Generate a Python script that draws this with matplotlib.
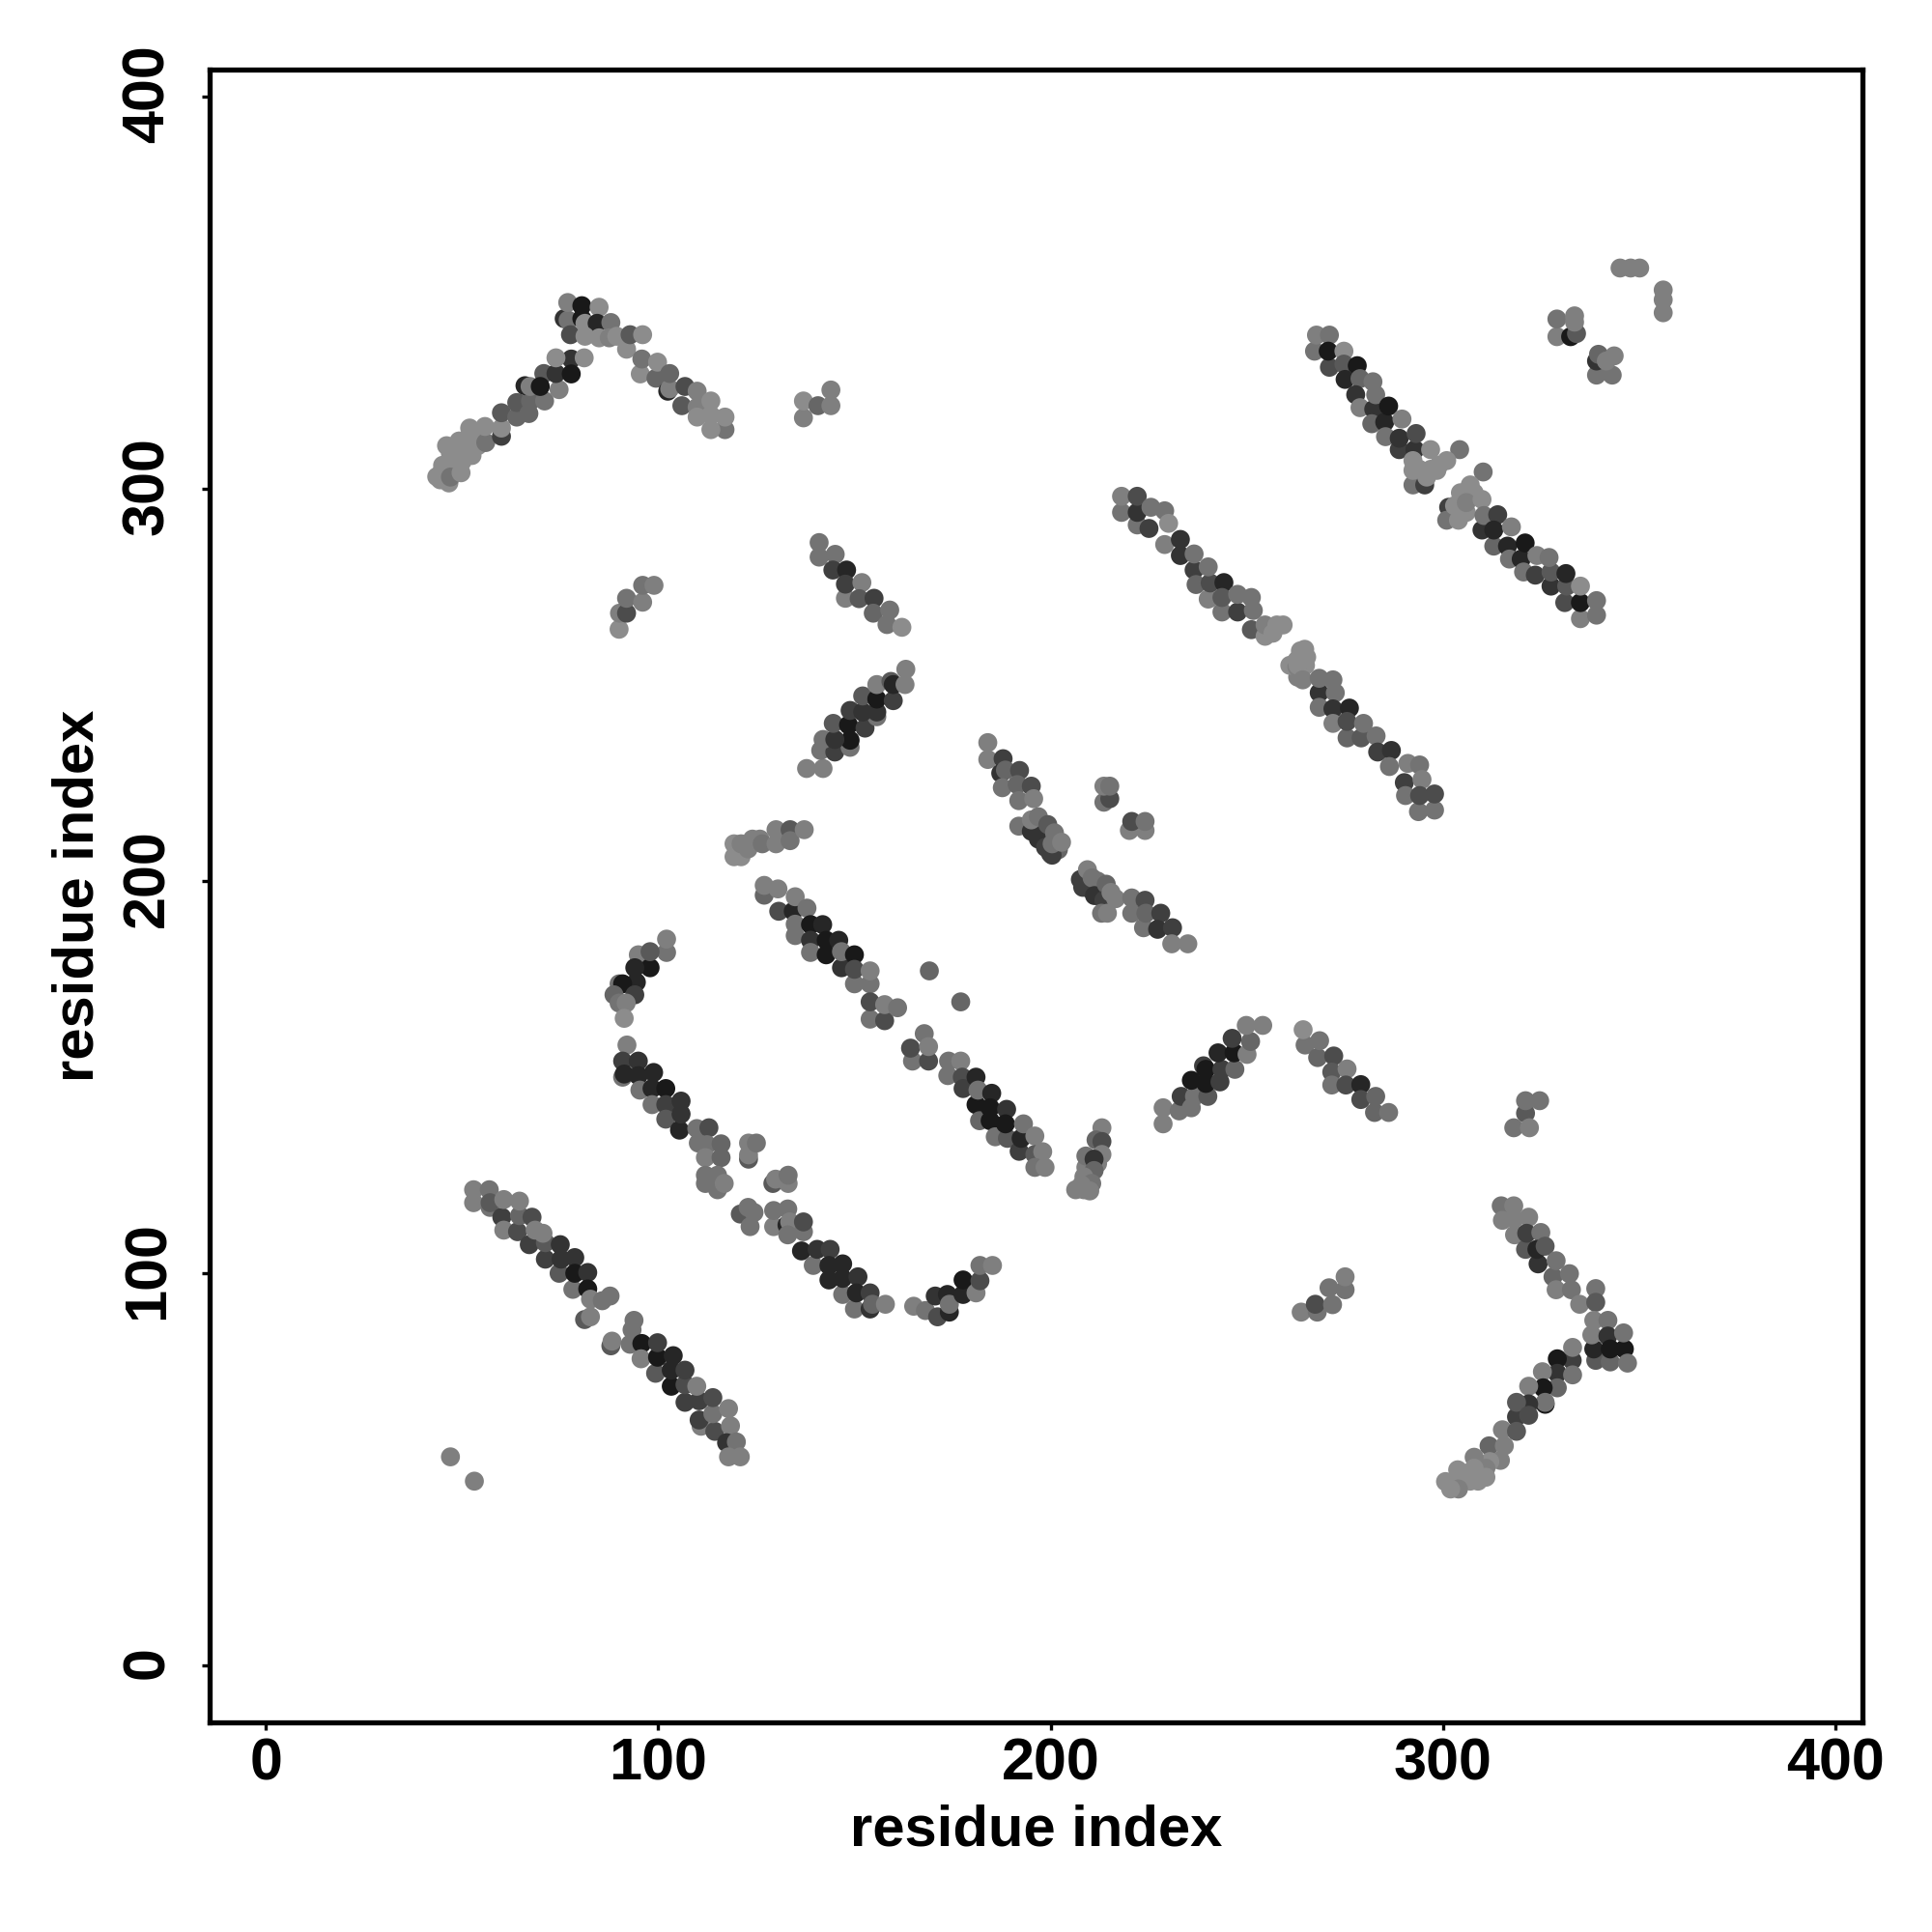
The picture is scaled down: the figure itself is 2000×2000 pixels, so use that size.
import numpy as np
import matplotlib
matplotlib.use('Agg')
import matplotlib.pyplot as plt
from matplotlib.transforms import ScaledTranslation

plt.rcParams['font.family'] = ['Liberation Sans', 'DejaVu Sans']

# every band is (residue i, residue j, contact score 1-10)
band_fill = [(45,306,1),(47,306,1),(48,307,1),(50,307,1),(48,304,1),(46,311,1),(53,313,1),(54,311,1),
             (294,305,1),(295,302,1),(294,303,1),(297,305,1),(299,306,1),(304,293,1),(302,293,1),(306,294,1),(308,299,1),
             (197,213,4),(198,211,6),(199,211,3),(200,207,7),(202,208,4),(201,210,5),
             (209,199,6),(210,198,7),(212,198,4),(213,197,3),(212,200,3),
             (209,124,3),(210,126,3),(212,128,2),(209,127,2),(263,252,2),(264,254,1),(265,255,1),(261,255,1)]
band_a = [(44.4,302.3,1),(46.6,301.5,1),(43.5,303.1,1),(44.8,304.4,1),(47,303,3),(49.7,304.1,1),(47,309,1),
          (49.7,311.4,1),(52.5,308.5,1),(51.9,315.5,1),(49.2,312.2,1),(51.9,311.4,1),(56,311.8,3),(55.8,315.9,1),
          (60,313.4,7),(60,315.5,1),(60,319.4,5),(63.9,318.3,4),(63.9,322,5),(67,319.2,4),(67.4,322.4,4),
          (71,322.4,3),(70.8,329.4,5),(66,326.3,9),(67.3,326.1,2),(69.9,326.1,10),(74.7,325.3,2),(73.9,329.4,8),
          (77.8,333.1,8),(77.8,329.3,10),(73.9,333.4,1),(81.1,333.4,1)]
band_b = [(76,343.4,8),(77,343,3),(76.9,347.5,2),(80.5,343.4,10),(80.5,346.7,10),(84.9,346.3,1),(77.6,339.3,6),
          (81.3,342.2,1),(84.4,342.2,9),(87.9,342.4,3),(81.3,338.9,1),(84.9,338.5,1),(87.5,338.5,2),(91.9,335.6,1),
          (89.4,338.9,1),(92.8,339.3,5),(96,339.3,1)]
band_c = [(95.4,329.3,1),(95.8,333.1,3),(99.4,328.2,4),(99.8,332.3,1),(102.4,324.9,9),(102.9,325.5,2),(102.9,329.4,4),
          (106,321.2,5),(106.8,326.1,6),(109.9,320.8,2),(109.9,324.9,2),(109.9,318.3,1),(113.4,322.4,1),
          (117,315.1,3),(113.4,315.1,1),(117,318.3,1),(113.4,318.8,1)]
band_d = [(137,318.1,2),(137,322.4,1),(140.7,321.2,4),(144,325.2,2),(144,321.2,2)]
band_e = [(90,264.2,1),(90.1,268.3,2),(91.9,268.3,6),(91.9,272.1,3),(96,271.1,2),(96,275.4,3),(98.9,275.4,2)]
band_f = [(141,282.6,3),(141,286.3,3),(145.1,283.3,3),(144.5,279.3,7),(148,279.3,9),(147.7,272.1,2),(147.7,275.7,7),
          (151.9,276.1,2),(151.2,272,5),(155,272.1,7),(154.8,268.3,4),(158.3,265.4,3),(159,269.1,3),(162.1,264.7,1)]
band_g = [(137.8,228.7,2),(142,228.7,2),(141.4,233.3,3),(145,232.9,7),(142,236.1,3),(148.9,234.1,3),(148.9,235.9,10),
          (145,236.1,8),(144.6,240.2,5),(148.5,239.8,10),(152.7,239,7),(148.9,243.5,7),(155.7,241.9,3),(155.7,243.1,8),
          (152.1,243.1,8),(152.1,247.2,5),(155.7,246.4,10),(159.9,246,7),(155.7,250.1,2),(159.3,250.9,5),
          (159.9,250.1,9),(162.9,250.1,2),(163.1,254,2)]
band_h = [(119.3,206.2,1),(121.1,206.2,1),(119.3,209.5,1),(121.1,209.5,2),(122.9,208.2,2),(124,210.7,2),(125.9,210.7,2),
          (126.5,209.5,3),(130,209.5,2),(130,213.1,2),(133.6,213.1,5),(133.6,210.3,3),(137.2,213.1,2)]
band_i = [(127,196.4,4),(127,198.9,2),(130.7,192.3,6),(130.5,198,2),(134.4,192.3,9),(134.9,196,2),(134.9,189,3),
          (137.9,193.1,3),(138.8,188.9,10),(134.9,186.1,3),(141.9,188.9,9),(138.8,184.9,8),(138.8,181.8,3),
          (142.8,181.2,10),(142.8,184.9,10),(146,184.9,9),(146.7,177.9,8),(146.7,182,3),(150,173.8,3),(150,181.2,10),
          (150,177.5,6),(154,173.8,3),(154,177.1,2)]
band_i2 = [(154,164.8,3),(154,169.2,6),(157.7,164.4,6),(157.7,168.5,2),(161,167.7,3),
           (164.8,154.1,3),(164.3,157.4,6),(167.8,161.1,3),(168.9,154.1,6),(168.9,157.8,2)]
band_i3 = [(173.8,150.4,3),(174,154.1,3),(177.1,154.1,2),(177.5,150,6),(177.7,147.1,7),(181,150,9),(181,143,10),
           (181.5,146.7,3),(181.9,138.9,4),(185,145.9,9),(184.6,142.2,10),(184.6,138.9,10),(185.9,134.8,3),
           (189,134.4,5),(188.8,141.8,8),(188.5,138.1,10),(192,131.1,7),(192.5,134.4,9),(193.1,138.1,3),
           (196,135,2),(196,130.3,5),(198,131,2),(196,127,3),(198.6,127,2)]
singles = [(169.1,177.1,4),(177.1,169.2,4),(47,53.2,2),(53.1,47,2)]
band_j = [(184,231,2),(184,235.3,2),(187.9,231.2,7),(187.3,227.5,8),(188.5,228.3,4),(192.1,228.2,6),(187.7,223.8,3),
          (191.5,224.6,4),(195.1,224.2,6),(191.9,220.5,3),(195.7,221,2),(191.9,214,3),(195.1,212.7,8),(195.1,215.6,2),
          (196.9,210.7,8),(196.9,216.4,3),(198.7,208.6,7),(199.3,214.4,5),(200.4,206.6,7),(200.4,209.5,3),
          (201,212.3,3),(202.8,209.9,2)]
band_j2 = [(207.6,200.4,7),(208.2,198.4,7),(209.4,202.9,2),(210.6,200.8,3),(211.2,196.3,8),(214.2,199.2,4),
           (213.6,195.1,7),(215.4,197.1,2),(213,191.8,3),(214.5,191.8,2),(216.6,195.5,2),(220.7,191.8,3),
           (220.7,195.7,3),(224.1,195.1,6),(223.7,188.1,3),(224.3,191.8,4),(228.1,191.8,7),(227.3,187.7,8),
           (231.1,188.1,7),(230.9,184,2),(235,184,2)]
band_j3 = [(213.6,220.1,3),(215.1,221,6),(213.6,224.2,2),(215.1,224.2,3),
           (220.1,212.9,2),(224.1,212.9,2),(220.7,215.2,6),(224.1,215.2,3)]
band_k = [(267.3,335.1,3),(267.8,339.2,2),(271.1,339.2,3),(271.1,331,6),(270.8,335.1,10),(274.8,335.1,1),
          (274.8,331.8,5),(278.2,331.4,10),(275.1,327.9,9),(278.9,328.1,4),(277.8,324,8),(282.2,327.3,3),
          (278.9,320.7,2),(282.4,320.3,8),(282.9,324,3),(281.9,316.6,4),(285.2,317,9),(286.2,321.1,10),(285.4,313.3,3),
          (288.9,310,7),(288.9,312.9,8),(289.6,317.8,2),(292.9,310,8),(293.2,314.1,6),(292.4,301,3),(295.4,301,7),
          (292.4,304.7,1),(292.4,307.2,1),(295.9,303,1),(298.5,304.7,1),(296.9,310,1),(304.3,310,3),(301,307.2,1)]
band_l = [(310.3,304.3,3),(307,301,1),(304.5,299,1),(301.5,295.3,7),(301,292,3),(304,292,1),(303,295.7,1),(306,296.5,2),
          (310,289.5,8),(310,297.3,1),(310.5,293.2,3),(314,293.4,7),(313,285.4,4),(313,289.5,9),(317.5,290.3,2),
          (316.5,285.4,9),(317,282.1,3),(320,282.1,9),(321,286.2,10),(320.6,278.8,3),(323.6,278,7),(324,283,2),
          (327.6,275.2,8),(327.6,278.8,5),(327.1,282.5,3),(331.1,271,6),(331.6,275.2,5),(331.4,278.4,9),
          (335.1,266.9,2),(335.1,271,10),(335.1,275.2,1),(339.2,267.8,3),(339.2,271.5,3)]
band_m = [(345.2,356.3,2),(347.9,356.3,2),(350.2,356.3,2),(356.2,344.9,2),(356.2,348.2,2),(356.2,350.7,2),
          (329.1,338.8,2),(329.1,343.3,3),(332.6,338.8,10),(334.1,339.6,5),(333.6,342.5,2),(333.6,344.1,2),
          (339.2,329,3),(343.2,329,3),(339.2,332.6,8),(339.7,334.3,4),(341.7,332.6,2),(343.7,333.9,2)]
band_n = [(218.1,294,3),(218.1,298.1,2),(222.1,290.8,3),(222.1,294,8),(222.1,298.1,6),(225.1,289.9,7),(225.6,295.3,3),
          (229.1,285.8,2),(229.1,294.4,3),(230.1,291.2,1),(233.1,283,8),(233.1,287.1,8),(236.6,279.3,7),(236.6,283.4,3),
          (237.1,275.6,4),(240.2,271.9,2),(240.7,276,6),(240.2,280.1,3),(244.2,276.1,9),(243.7,268.6,3),(243.7,272.3,5),
          (247.7,268.6,7),(247.7,273.1,3),(251.2,264.1,5),(251.7,269,3),(251.2,272.3,3),(254.7,262.4,1),(254.7,265.3,2),
          (256.7,263.2,1),(257.7,265.3,1),(259.3,265.3,1)]
band_o = [(262.8,254.6,2),(262.8,256.3,1),(263.1,255,1),(264.8,259.1,1),(265.3,257.1,1),(263.7,258.7,1),(264.3,251.3,2),
          (268.5,248,8),(268.5,251.7,3),(272,251.3,3),(272.6,248,3),(268.5,244.3,3),(272,243.9,8),(276.2,244.1,9),
          (272,240.2,2),(275.6,236.5,4),(275.6,240.7,6),(279.2,236.5,5),(279.8,240.2,3),(283,237,3),(283.4,232.9,7),
          (286.9,233.3,8),(286.4,229.2,3),(291.1,230,2),(290.2,225.1,7),(290.5,221.8,3),(294.1,229.6,3),(294.7,225.9,2),
          (293.8,217.7,3),(294.1,221.8,6),(297.9,218.1,3),(297.9,222.2,6)]
band_p = [(102.1,181.8,3),(102.1,185.2,2),(94.9,181.2,2),(97.9,177.9,10),(97.9,182,5),(94,177.9,9),(94.4,174.2,9),
          (90,173.8,3),(90.9,173.8,10),(94,171,7),(88.7,171,4),(90,168.9,3),(91.8,168.9,2),(91.3,165,1)]
band_q = [(92,158.2,2),(90.9,150,3),(90.9,154.1,7),(94.9,154.1,8),(91.3,150.8,9),(94.9,150.4,9),(95.3,146.7,3),
          (98.8,151.2,9),(98.4,147.1,9),(98.4,143,3),(101.9,147.1,10),(101.9,143,7),(101.9,139.3,5),(105.4,136.5,9),
          (105.8,140.6,8),(105.8,143.9,8),(109.8,136.9,3),(110.2,133.2,3),(112.9,137.1,6),(112.4,132.8,3),(116,133,4),
          (112,129.5,2),(116,129.5,4),(112,125,3),(112,122.9,3),(115.1,121.3,3),(115.1,125,3),(116.8,122.9,2),
          (123,129.1,5),(123,130.2,2),(123,133.2,2),(125,133.2,3),
          (129.2,122.9,5),(129.9,124,2),(133.1,122.9,2),(133.1,125,3)]
band_r = [(120.9,115.1,5),(122.9,116.8,3),(123.4,111.9,3),(124.4,115.5,3),(129.4,111.9,2),(129.4,116,3),(133,116.4,3),
          (132.8,112.3,9),(133.5,113.1,2),(133,109.8,3),(137,110.6,3),(137,113.1,6),(136.5,105.7,9),(139.5,102,3),
          (140.5,106.1,8),(143.8,106.1,7),(143.5,102,9),(143.5,98.3,9),(147,102.4,9),(147,94.6,3),(147,98.7,9),
          (150.9,99.1,8),(150,90.9,3),(150.5,95,9),(154,90.9,8),(154,95,7),(154.6,92.1,4),(157.9,92.1,2)]
band_s = [(165.1,91.6,2),(168.1,90.5,3),(171.2,88.9,6),(170.6,94.2,8),(174.2,90.1,9),(173.7,94.6,9),(174.2,92.1,3),
          (177.7,94.6,9),(177.7,98.3,10),(181,95,2),(182,98.1,6),(182,102,3),(185.2,102,2)]
band_t = [(52.9,118,2),(52.9,121.3,2),(56.9,121.3,3),(57.1,116.8,3),(57.1,118,5),(60.1,114.3,7),(60.6,111,2),(60.6,118.8,2),
          (64.1,110.6,6),(64.6,114.7,4),(64.6,118.4,2),(67.8,114.3,6),(67.1,107.3,7),(68.6,111,2),(71.2,103.6,7),
          (71.2,107.8,5),(70.6,110.2,2),(75,107.3,8),(74.7,100,5),(75.2,103.6,8),(78.7,104,8),(78.2,95.9,3),(78.7,100,10),
          (82,100.2,8),(81.2,88.2,5),(82.7,88.9,2),(82,96,10),(82.7,93.4,2),(85.7,93,3),(87.7,94.2,3)]
band_u = [(87.9,81.5,5),(88.2,82.7,2),(93.8,88,3),(93.3,85.6,3),(92.8,81.9,3),(95.8,82.1,10),(95.6,78.2,2),(99.3,74.5,5),
          (99.8,78.6,10),(99.8,82.3,7),(103.3,71.2,10),(103.3,75.3,9),(103.8,79,9),(106.8,67.1,7),(106.8,71.6,6),
          (106.8,75.3,7),(110.9,61,2),(110.4,62.6,7),(110.4,67.5,7),(109.8,71.2,2),(114.4,59.7,6),(113.9,64.2,3),
          (113.9,68.3,6),(117.9,65.5,2),(118.4,61.1,2),(117.4,56.8,8),(119.9,57,3),(117.9,53.2,2),(120.9,53.2,2)]
band_v = [(228.7,138.1,2),(228.7,142.2,2),(232.8,141.4,3),(233.3,145.1,7),(235.9,142.2,3),(236.7,145.1,3),(240.1,145.1,5),
          (235.9,149.2,10),(239.6,148.4,10),(243.2,148.8,7),(239,152.9,7),(239.6,152,10),(243.7,152,7),(247,152,4),
          (242.7,156.2,9),(246.8,156.2,10),(246.3,159.9,7),(250.1,155.8,2),(251,159.1,4),(249.9,163.2,2),(254.1,163.2,2)]
band_w = [(264.9,158.2,3),(264.4,162.1,1),(268.1,155,4),(268.6,159.3,3),(272.2,155.4,6),(271.7,151.3,5),(275.6,152.1,2),
          (271.7,148,3),(275.3,148,6),(279.1,148.1,9),(279.1,144.3,6),(282.9,145.1,4),(282.6,141,4),(286.2,141,3)]
band_x = [(321.1,140.8,5),(321.1,144,3),(324.7,144,3),(318.1,137.1,3),(322.1,137.1,2),
          (263.9,90.1,2),(268,90.1,3),(267.5,92.1,6),(271.9,92,3),(271,96.3,3),(275.1,95.8,3),(275.1,99.1,2)]
band_y = [(213.1,137.1,2),(211.6,134,4),(213.1,133.6,6),(213.1,130.3,2),(209,129.9,3),(211.1,129.1,8),(211.1,126.2,4),
          (208.5,124.6,2),(210.5,122.9,3),(206.4,121.3,2),(208.5,121.3,2),(210,121,2),(207.9,122.5,2)]
band_z = [(314.9,117.2,3),(315.2,113.5,2),(318.1,117.2,2),(318.3,113.9,2),(318.3,109.8,2),(321.9,114.3,2),(321.1,106.1,5),
          (321.4,110.2,7),(325,110.4,3),(324.3,102.4,8),(324,106.1,9),(326.1,106.9,5),(328.1,99.1,4),(328.9,95.8,2),
          (328.9,103.2,3),(332.3,99.9,3),(332.8,95.8,3),(334.9,92.1,2),(339,96.1,3),(339,92.6,5),(339,77.8,5),
          (338.5,80.7,9),(338,84.3,2),(338.5,88,2),(342.1,88,3),(342.1,84,8),(342.7,77.4,4),(342.7,80.7,10),
          (346.3,80.7,10),(346.1,84.8,3),(347.1,77.1,3)]
band_aa = [(333,77.8,7),(333.1,81.1,2),(329.2,78.2,10),(329.2,74.5,8),(333.1,74.1,3),(329.2,70.8,4),(325.4,74.9,2),
           (326.1,66.6,10),(325.6,70.8,10),(326.1,67.1,3),(321.9,71.2,2),(321.9,66.7,8),(318.8,63.4,7),(318.8,67.1,5),
           (321.9,63.8,6),(315.2,60.1,2),(318.8,59.7,5),(311.8,56,4),(315.7,56,2),(314.7,52.3,2),(312,52,1),(310,51,1),
           (308,53.1,2),(311,50.3,2),(308,50.3,1),(303.8,49.9,1),(306,49,1),(311,48,1),(309,47,1),(307,47,1),(305,47,1),
           (300.7,46.9,1),(304,45,2),(302,45,1)]

bands = [band_fill, band_a, band_b, band_c, band_d, band_e, band_f, band_g, band_h, band_i, band_i2, band_i3, singles,
         band_j, band_j2, band_j3, band_k, band_l, band_m, band_n, band_o, band_p, band_q, band_r, band_s,
         band_t, band_u, band_v, band_w, band_x, band_y, band_z, band_aa]

tick_values = [0, 100, 200, 300, 400]

fig = plt.figure(figsize=(10, 10), dpi=200)
ax = fig.add_axes([217 / 2000, 1 - 1783 / 2000, 1711 / 2000, 1711 / 2000])

for band in bands:
    pts = np.array(band)
    # score 1 is mid grey, score 10 is almost black
    ax.scatter(pts[:, 0], pts[:, 1], c=pts[:, 2], cmap='gray_r', vmin=-8, vmax=12,
               s=50, linewidths=0, clip_on=True)

ax.set_xlim(-14.4, 407)
ax.set_ylim(-14.5, 406.9)
ax.set_xticks(tick_values)
ax.set_yticks(tick_values)
ax.tick_params(axis='both', length=3, width=1.2, labelsize=22)
ax.tick_params(axis='x', pad=2.5)
ax.tick_params(axis='y', pad=9.5)
for label in ax.get_xticklabels():
    label.set_fontweight('bold')
# rotated labels sit a little low, nudge them up by 3 px
nudge = ScaledTranslation(0, 3 / 200, fig.dpi_scale_trans)
for label in ax.get_yticklabels():
    label.set_fontweight('bold')
    label.set_rotation(90)
    label.set_va('center')
    label.set_transform(label.get_transform() + nudge)

for spine in ax.spines.values():
    spine.set_linewidth(1.9)

ax.set_xlabel('residue index', fontsize=21.5, fontweight='bold', va='center')
ax.set_ylabel('residue index', fontsize=21.5, fontweight='bold', va='center')
ax.xaxis.set_label_coords(0.5, -0.0655)
ax.yaxis.set_label_coords(-0.0795, 0.5)

fig.savefig('out.png', dpi=200)
